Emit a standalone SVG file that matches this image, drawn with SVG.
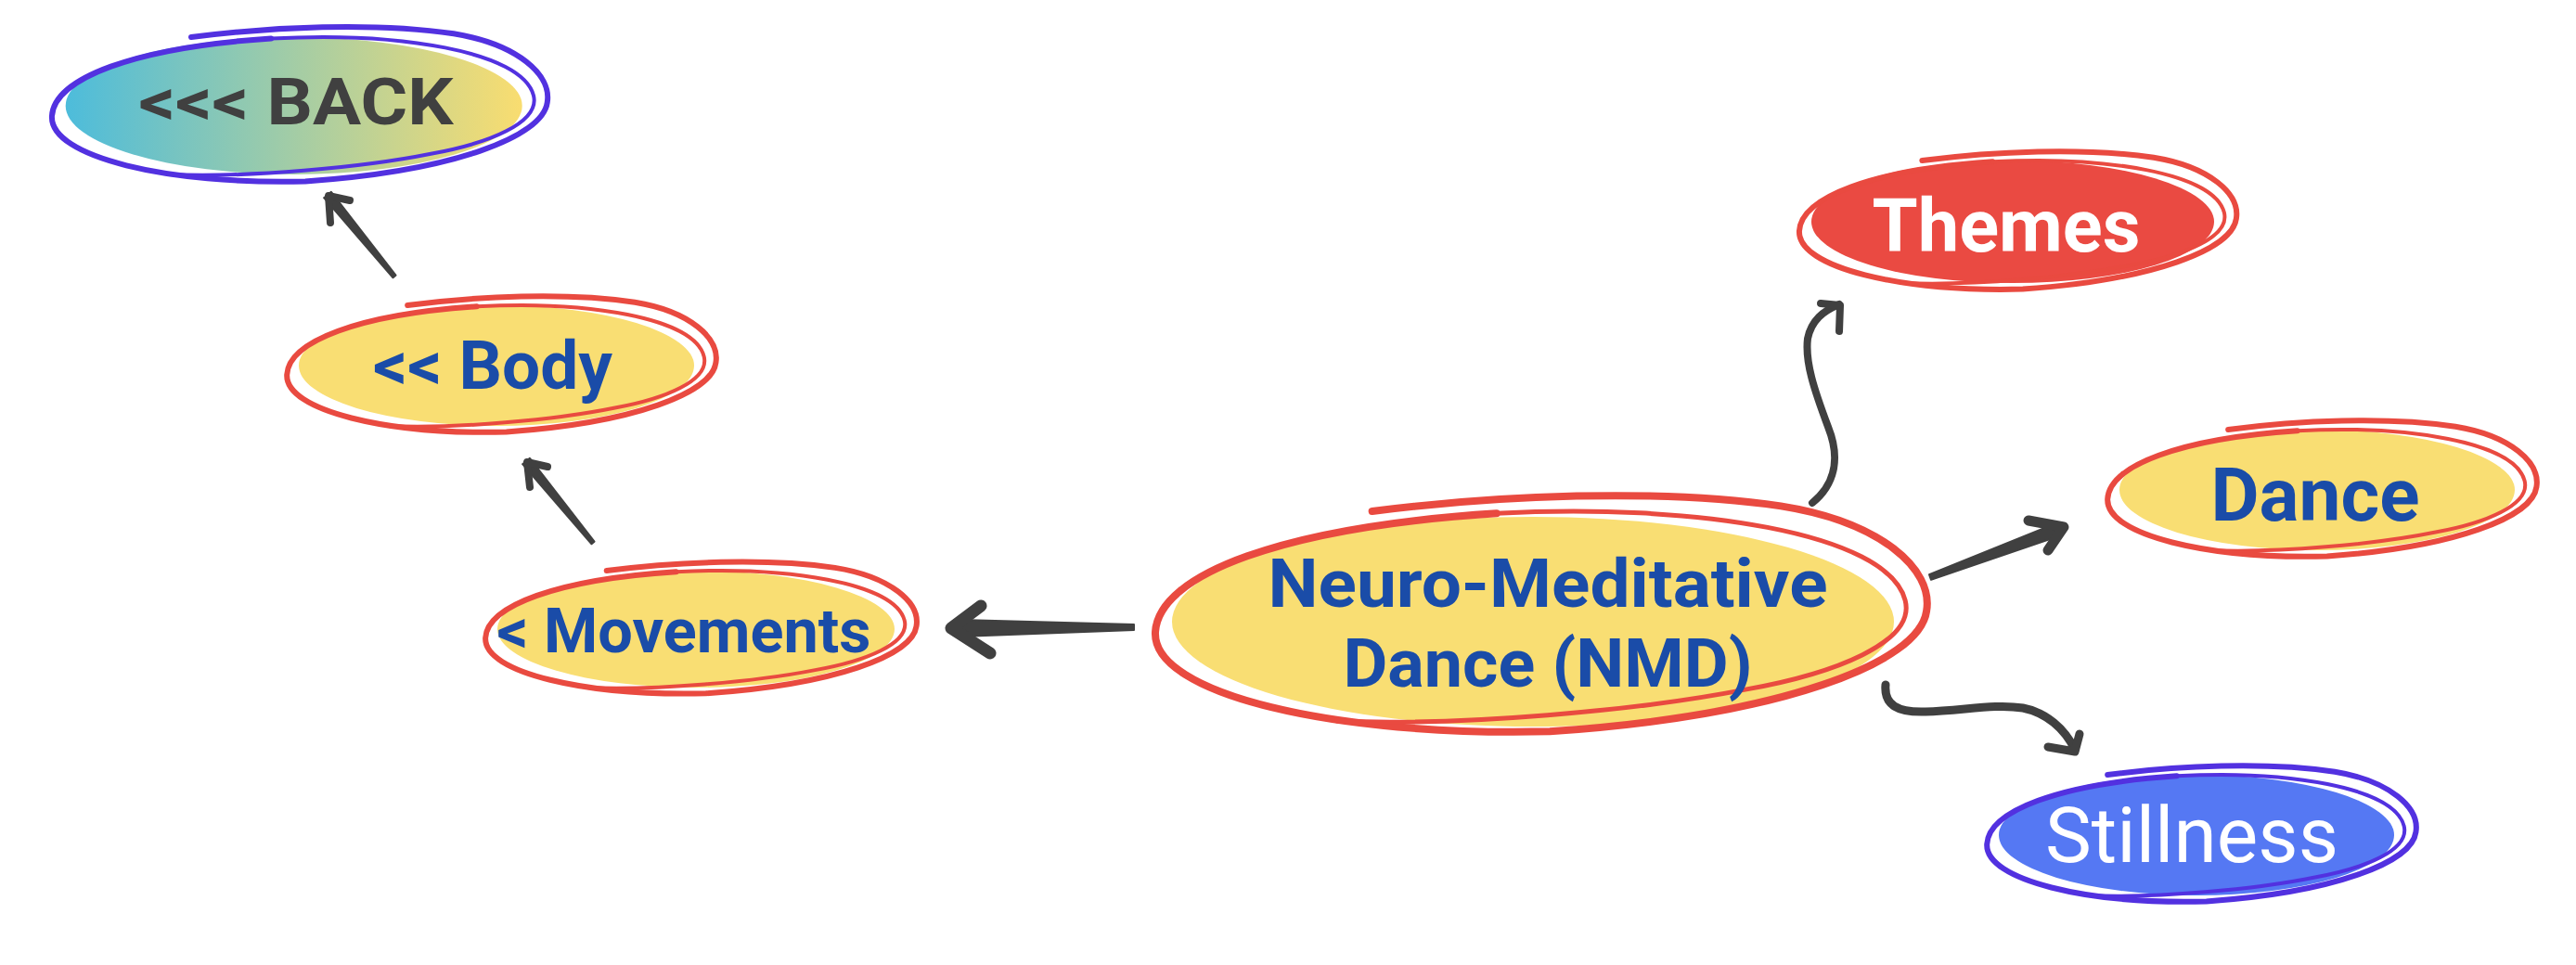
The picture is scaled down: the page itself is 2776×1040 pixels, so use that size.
<svg xmlns="http://www.w3.org/2000/svg" width="2776" height="1040" viewBox="0 0 2776 1040">
<defs>
<linearGradient id="gBack" x1="0" y1="0" x2="1" y2="0">
<stop offset="0" stop-color="#4DBCDB"/>
<stop offset="1" stop-color="#F9DD70"/>
</linearGradient>
<path id="scrA" vector-effect="non-scaling-stroke" d="M -0.45,-1.0 C -0.1,-1.15 0.35,-1.22 0.7,-1.05 C 0.98,-0.9 1.13,-0.45 1.11,-0.05 C 1.09,0.45 0.7,0.95 0.05,1.1 C -0.55,1.15 -1.07,0.75 -1.06,0.15 C -1.05,-0.4 -0.7,-0.85 -0.1,-0.98"/>
<path id="scrB" vector-effect="non-scaling-stroke" d="M -0.1,-0.98 C 0.45,-1.08 1.0,-0.8 1.05,-0.15 C 1.08,0.25 0.85,0.55 0.6,0.7 C 0.3,0.9 -0.2,1.05 -0.55,1.0"/>
</defs>
<style>
.scr{fill:none;stroke-linecap:round;stroke-linejoin:round}
.red{stroke:#E94A40}
.pur{stroke:#5231E0}
.lbl{font-family:Roboto,"Liberation Sans",sans-serif;font-weight:700;text-anchor:middle}
.blue{fill:#1A4CA8}
.yel{fill:#F9DE73}
.arr{fill:none;stroke:#404040;stroke-linecap:round;stroke-linejoin:round}
.shaft{fill:#404040;stroke:#404040;stroke-width:2;stroke-linejoin:round}
</style>
<rect width="2776" height="1040" fill="#ffffff"/>

<g id="connectors">
<polygon class="shaft" points="426.5,296.7 356.9,206.8 349.1,213.2 423.5,299.3"/>
<path class="arr" stroke-width="8" d="M377,216 L354,211 L356,240"/>
<polygon class="shaft" points="640.5,583.7 570.9,493.8 563.1,500.2 637.5,586.3"/>
<path class="arr" stroke-width="8" d="M590,503 L568,498 L571,525"/>
<polygon class="shaft" points="1222,673 1035,668 1027,677 1035,686 1222,679"/>
<path class="arr" stroke-width="13" d="M1057,653 L1025,677 L1067,704"/>
<polygon class="shaft" points="2079,619.2 2214.6,564.4 2219.4,577.6 2081,624.8"/>
<path class="arr" stroke-width="11" d="M2186,561 L2224,568 L2207,593"/>
<path class="arr" stroke-width="8" d="M1953,542 C1980,520 1982,490 1970,460 C1955,420 1945,390 1948,365 C1952,345 1965,335 1982,328"/>
<path class="arr" stroke-width="8" d="M1962,327 L1983,329 L1982,357"/>
<path class="arr" stroke-width="9" d="M2032,738 C2030,760 2045,768 2075,767 C2115,766 2150,758 2180,763 C2205,768 2225,785 2236,808"/>
<path class="arr" stroke-width="9" d="M2207,805 L2236,810 L2241,791"/>
</g>

<g id="node-back">
<ellipse cx="316.7" cy="114" rx="246" ry="74" fill="url(#gBack)"/>
<use href="#scrA" class="scr pur" stroke-width="6" transform="translate(316.7 114) scale(246 74)"/>
<use href="#scrB" class="scr pur" stroke-width="4" transform="translate(316.7 114) scale(246 74)"/>
<text class="lbl" x="319" y="134" font-size="70" fill="#404040" font-family="'Liberation Sans',sans-serif" textLength="339" lengthAdjust="spacingAndGlyphs">&lt;&lt;&lt; BACK</text>
</g>

<g id="node-body">
<ellipse class="yel" cx="535" cy="394" rx="213" ry="65"/>
<use href="#scrA" class="scr red" stroke-width="6" transform="translate(535 394) scale(213 65)"/>
<use href="#scrB" class="scr red" stroke-width="4" transform="translate(535 394) scale(213 65)"/>
<text class="lbl blue" x="531" y="419" font-size="72" textLength="258" lengthAdjust="spacingAndGlyphs">&lt;&lt; Body</text>
</g>

<g id="node-movements">
<ellipse class="yel" cx="750" cy="678" rx="214" ry="63"/>
<use href="#scrA" class="scr red" stroke-width="6" transform="translate(750 678) scale(214 63)"/>
<use href="#scrB" class="scr red" stroke-width="4" transform="translate(750 678) scale(214 63)"/>
<text class="lbl blue" x="737" y="703" font-size="66" textLength="403" lengthAdjust="spacingAndGlyphs">&lt; Movements</text>
</g>

<g id="node-nmd">
<ellipse class="yel" cx="1652" cy="670" rx="389" ry="113"/>
<use href="#scrA" class="scr red" stroke-width="8" transform="translate(1651 664) scale(383 113)"/>
<use href="#scrB" class="scr red" stroke-width="5" transform="translate(1651 664) scale(383 113)"/>
<text class="lbl blue" x="1668" y="654" font-size="73" font-family="'Liberation Sans',sans-serif" textLength="603" lengthAdjust="spacingAndGlyphs">Neuro-Meditative</text>
<text class="lbl blue" x="1668" y="740" font-size="73" font-family="'Liberation Sans',sans-serif" textLength="441" lengthAdjust="spacingAndGlyphs">Dance (NMD)</text>
</g>

<g id="node-themes">
<ellipse cx="2169" cy="239" rx="217" ry="66" fill="#EA4A42"/>
<use href="#scrA" class="scr red" stroke-width="6" transform="translate(2169 239) scale(217 66)"/>
<use href="#scrB" class="scr red" stroke-width="4" transform="translate(2169 239) scale(217 66)"/>
<text class="lbl" x="2162" y="271" font-size="80" fill="#ffffff" textLength="289" lengthAdjust="spacingAndGlyphs">Themes</text>
</g>

<g id="node-dance">
<ellipse class="yel" cx="2497" cy="528" rx="213" ry="65"/>
<use href="#scrA" class="scr red" stroke-width="6" transform="translate(2497 528) scale(213 65)"/>
<use href="#scrB" class="scr red" stroke-width="4" transform="translate(2497 528) scale(213 65)"/>
<text class="lbl blue" x="2495" y="561" font-size="79" textLength="225" lengthAdjust="spacingAndGlyphs">Dance</text>
</g>

<g id="node-stillness">
<ellipse cx="2367" cy="900" rx="213" ry="65" fill="#5578F3"/>
<use href="#scrA" class="scr pur" stroke-width="6" transform="translate(2367 900) scale(213 65)"/>
<use href="#scrB" class="scr pur" stroke-width="4" transform="translate(2367 900) scale(213 65)"/>
<text class="lbl" x="2362" y="929" font-size="83" style="font-weight:400" fill="#ffffff" textLength="316" lengthAdjust="spacingAndGlyphs">Stillness</text>
</g>
</svg>
